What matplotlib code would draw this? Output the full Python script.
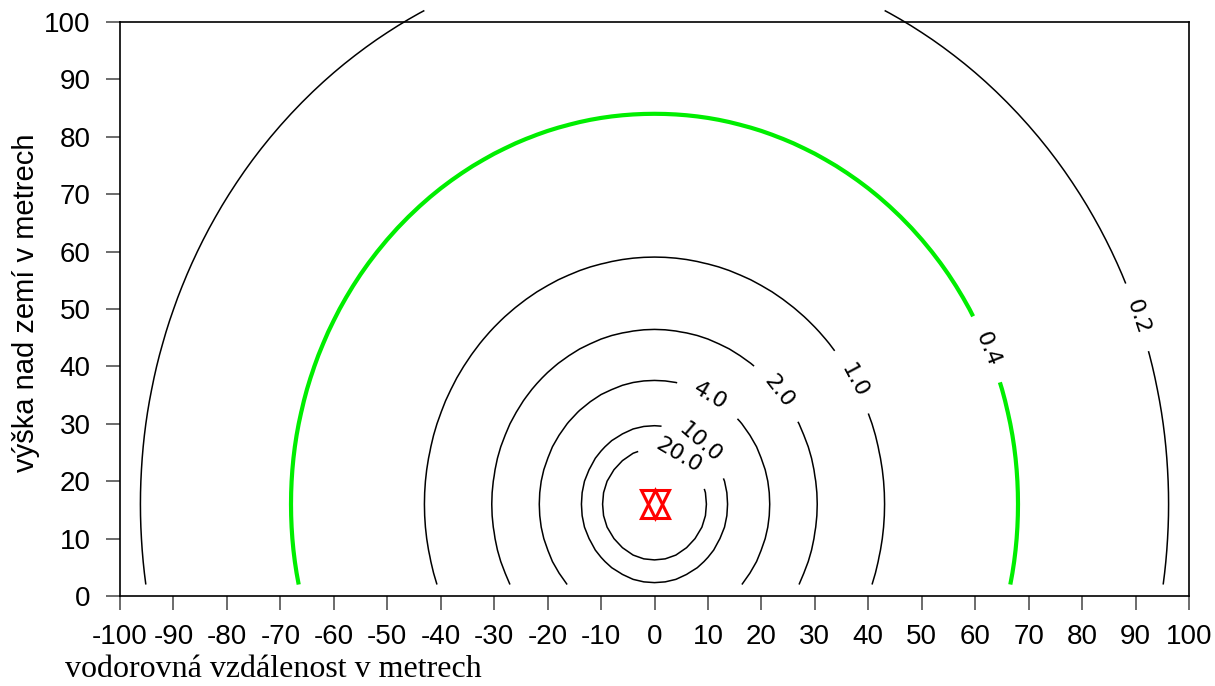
import numpy as np
import matplotlib
matplotlib.use("Agg")
import matplotlib.pyplot as plt

# contour levels of the field and the one drawn highlighted
levels = [0.2, 0.4, 1.0, 2.0, 4.0, 10.0, 20.0]
highlight_level = 0.4

# point source: position (m) and strength, field falls off as 1/r^2
source_x = 0.0
source_y = 16.0
source_strength = 1850.0

# computation grid (m)
grid_x = np.arange(-100, 101, 2.0)
grid_y = np.arange(2, 103, 2.0)

# where the contour labels sit (x, y in metres)
label_pos = [(88.6, 48.0), (60.1, 42.2), (36.3, 37.0), (22.7, 35.2),
             (10.1, 34.4), (8.1, 26.2), (3.9, 23.5)]

xticks = list(range(-100, 101, 10))
yticks = list(range(0, 101, 10))

X, Y = np.meshgrid(grid_x, grid_y)
field = source_strength / ((X - source_x) ** 2 + (Y - source_y) ** 2)

fig = plt.figure(figsize=(12.15, 6.86), dpi=100)
ax = fig.add_axes([120 / 1215, 1 - 596 / 686, 1069 / 1215, 574 / 686])

colors = ["#00ee00" if lv == highlight_level else "black" for lv in levels]
widths = [3.0 if lv == highlight_level else 1.1 for lv in levels]
cs = ax.contour(X, Y, field, levels=levels, colors=colors, linewidths=widths)
cs.set_clip_on(False)
ax.clabel(cs, levels=levels, fmt="%.1f", fontsize=16, colors="black",
          inline=True, inline_spacing=18, manual=label_pos)

# source marker
ax.plot([source_x], [source_y], marker="^", ms=20, mfc="none", mec="red", mew=2.2)
ax.plot([source_x], [source_y], marker="v", ms=20, mfc="none", mec="red", mew=2.2)

ax.set_xlim(-100, 100)
ax.set_ylim(0, 100)
ax.set_xticks(xticks)
ax.set_yticks(yticks)
ax.set_xticklabels([str(t) for t in xticks], fontsize=20, family="Liberation Sans")
ax.set_yticklabels([str(t) for t in yticks], fontsize=20, family="Liberation Sans")
ax.tick_params(direction="out", length=10, width=1.1, color="#444444")
ax.tick_params(axis="x", pad=10)
ax.tick_params(axis="y", pad=11)
for sp in ax.spines.values():
    sp.set_linewidth(1.2)

fig.text(26 / 1215, 1 - 303 / 686, "výška nad zemí v metrech", rotation=90,
         ha="center", va="center", fontsize=21, family="Liberation Sans")
fig.text(65 / 1215, 1 - 677 / 686, "vodorovná vzdálenost v metrech",
         ha="left", va="baseline", fontsize=23, family="Liberation Serif")

fig.savefig("out.png", dpi=100)
